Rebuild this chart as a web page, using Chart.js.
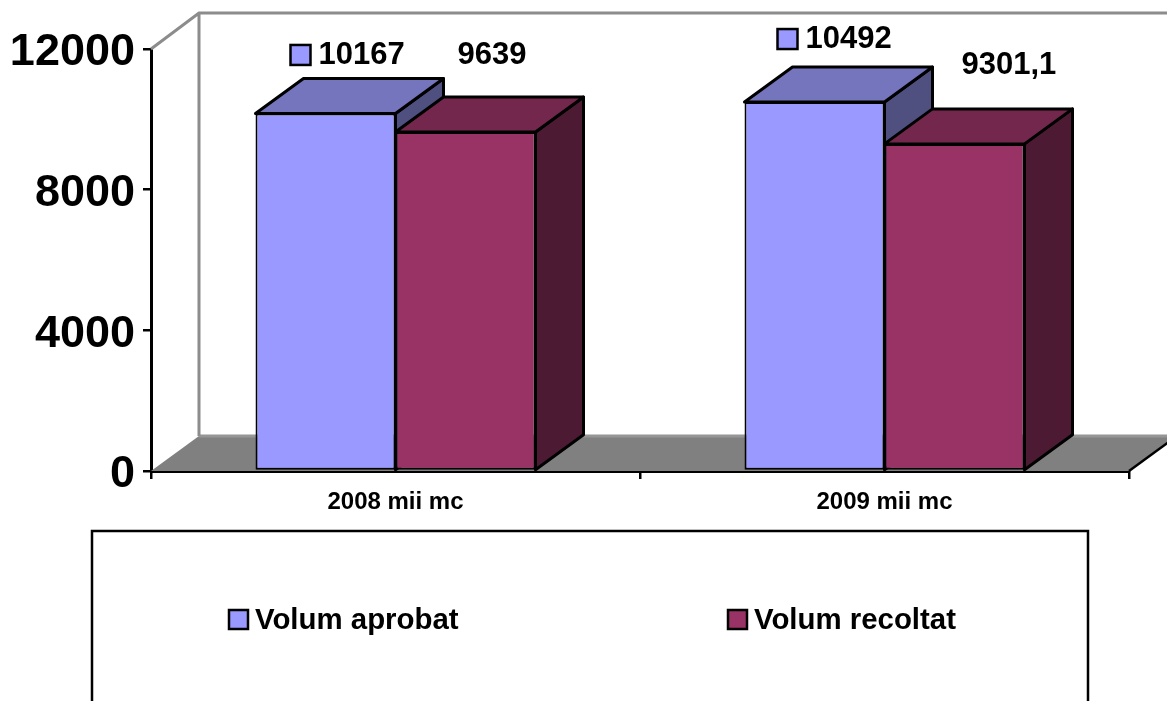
<!DOCTYPE html>
<html>
<head>
<meta charset="utf-8">
<title>Volum aprobat / recoltat</title>
<script src="https://cdn.jsdelivr.net/npm/chart.js@4"></script>
<style>
html, body { margin: 0; padding: 0; background: #fff; overflow: hidden; }
canvas { display: block; }
</style>
</head>
<body>
<canvas id="grafic" width="1167" height="701"></canvas>
<script>
let categories = ['2008 mii mc', '2009 mii mc'];
let volumAprobat = [10167, 10492];
let volumRecoltat = [9639, 9301.1];
let yTicks = [0, 4000, 8000, 12000];

// front, top and side colour of each series
let frontColors = ['#9999FF', '#993366'];
let topColors = ['#7575BD', '#74274D'];
let sideColors = ['#4F4F80', '#4D1A33'];

// depth of the fake 3D
let depthX = 48;
let depthY = 35;
let fontName = '"Liberation Sans", Arial, sans-serif';

// where the data labels sit, relative to their bar: [dx, dy] per series, per category
let labelOffsets = [
    [[-7, -58.5], [-9, -63]],
    [[-8, -77], [7, -78]]
];

function poly(ctx, points, fill, stroke, width) {
    ctx.beginPath();
    points.forEach(function (p, i) {
        if (i === 0) ctx.moveTo(p[0], p[1]);
        else ctx.lineTo(p[0], p[1]);
    });
    ctx.closePath();
    ctx.fillStyle = fill;
    ctx.fill();
    if (stroke) {
        ctx.strokeStyle = stroke;
        ctx.lineWidth = width;
        ctx.lineJoin = 'round';
        ctx.stroke();
    }
}

function swatch(ctx, x, y, size, color) {
    ctx.fillStyle = color;
    ctx.fillRect(x, y, size, size);
    ctx.strokeStyle = '#000';
    ctx.lineWidth = 2.5;
    ctx.strokeRect(x, y, size, size);
}

// walls and floor go behind the bars
let walls = {
    id: 'walls',
    beforeDatasetsDraw: function (chart) {
        let ctx = chart.ctx;
        let a = chart.chartArea;
        ctx.save();
        poly(ctx, [[a.left, a.bottom], [a.left + depthX, a.bottom - depthY], [a.right + depthX, a.bottom - depthY], [a.right, a.bottom]], '#808080');
        ctx.strokeStyle = '#969696';
        ctx.lineWidth = 3;
        ctx.beginPath();
        ctx.moveTo(a.left + depthX, a.bottom - depthY);
        ctx.lineTo(a.right + depthX, a.bottom - depthY);
        ctx.stroke();
        ctx.strokeStyle = '#8c8c8c';
        ctx.lineWidth = 3;
        ctx.beginPath();
        ctx.moveTo(a.left, a.top);
        ctx.lineTo(a.left + depthX, a.top - depthY - 1);
        ctx.lineTo(a.right + depthX, a.top - depthY - 1);
        ctx.moveTo(a.left + depthX, a.top - depthY - 1);
        ctx.lineTo(a.left + depthX, a.bottom - depthY);
        ctx.stroke();
        ctx.strokeStyle = '#000';
        ctx.lineWidth = 2.5;
        ctx.beginPath();
        ctx.moveTo(a.right, a.bottom);
        ctx.lineTo(a.right + depthX, a.bottom - depthY);
        ctx.stroke();

        // top and side of the bars, the fronts are drawn over them by Chart.js
        chart.data.datasets.forEach(function (ds, s) {
            chart.getDatasetMeta(s).data.forEach(function (bar) {
                let l = bar.x - bar.width / 2;
                let r = bar.x + bar.width / 2;
                let t = bar.y;
                let b = bar.base;
                poly(ctx, [[r, t], [r + depthX, t - depthY], [r + depthX, b - depthY], [r, b]], sideColors[s], '#000', 3);
                poly(ctx, [[l, t], [l + depthX, t - depthY], [r + depthX, t - depthY], [r, t]], topColors[s], '#000', 3);
            });
        });
        ctx.restore();
    }
};

let labelsAndLegend = {
    id: 'labelsAndLegend',
    afterDraw: function (chart) {
        let ctx = chart.ctx;
        ctx.save();
        ctx.fillStyle = '#000';
        ctx.textBaseline = 'middle';
        ctx.textAlign = 'left';
        ctx.font = 'bold 31px ' + fontName;
        chart.data.datasets.forEach(function (ds, s) {
            chart.getDatasetMeta(s).data.forEach(function (bar, i) {
                let off = labelOffsets[s][i];
                let x = bar.x + off[0];
                let y = bar.y + off[1];
                if (s === 0) swatch(ctx, x - 28, y - 10, 20, frontColors[0]);
                ctx.fillStyle = '#000';
                ctx.fillText(String(ds.data[i]).replace('.', ','), x, y);
            });
        });

        // legend box, cut by the bottom of the picture
        ctx.strokeStyle = '#000';
        ctx.lineWidth = 2.5;
        ctx.strokeRect(92, 531, 996, 200);
        ctx.font = 'bold 29.4px ' + fontName;
        let legendX = [229, 728];
        chart.data.datasets.forEach(function (ds, s) {
            swatch(ctx, legendX[s], 610, 19, frontColors[s]);
            ctx.fillStyle = '#000';
            ctx.fillText(ds.label, legendX[s] + 26, 621);
        });
        ctx.restore();
    }
};

let grafic = new Chart(document.getElementById('grafic'), {
    type: 'bar',
    data: {
        labels: categories,
        datasets: [
            { label: 'Volum aprobat', data: volumAprobat, backgroundColor: frontColors[0] },
            { label: 'Volum recoltat', data: volumRecoltat, backgroundColor: frontColors[1] }
        ]
    },
    options: {
        responsive: false,
        animation: false,
        layout: { padding: { top: 49, right: 38, left: 0, bottom: 0 } },
        datasets: {
            bar: {
                barPercentage: 1,
                categoryPercentage: 0.5726,
                borderColor: '#000',
                borderWidth: 2,
                borderSkipped: false
            }
        },
        scales: {
            x: {
                afterFit: function (scale) { scale.height = 230; },
                grid: { drawOnChartArea: false, color: '#000', lineWidth: 2.5, tickLength: 8 },
                border: { color: '#000', width: 3 },
                ticks: { color: '#000', padding: 9, maxRotation: 0, font: { family: fontName, weight: 'bold', size: 24 } }
            },
            y: {
                min: 0,
                max: 12000,
                afterFit: function (scale) { scale.width = 151; },
                afterBuildTicks: function (scale) {
                    scale.ticks = yTicks.map(function (v) { return { value: v }; });
                },
                grid: { drawOnChartArea: false, color: '#000', lineWidth: 2.5, tickLength: 8 },
                border: { color: '#000', width: 3 },
                ticks: {
                    color: '#000',
                    padding: 8,
                    labelOffset: 4,
                    font: { family: fontName, weight: 'bold', size: 45 },
                    callback: function (v) { return String(v); }
                }
            }
        },
        plugins: {
            legend: { display: false },
            title: { display: false },
            tooltip: { enabled: false }
        }
    },
    plugins: [walls, labelsAndLegend]
});
</script>
</body>
</html>
